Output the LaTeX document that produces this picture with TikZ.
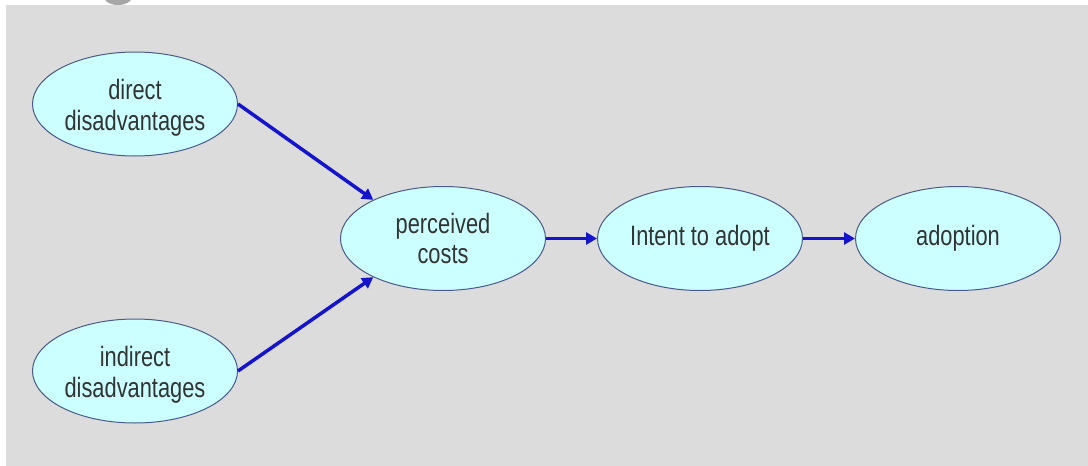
\documentclass[tikz,border=0pt]{standalone}
\usepackage{fontspec}
\usepackage{graphicx}
\setmainfont{Liberation Sans}
\usetikzlibrary{arrows.meta,shapes.geometric}
\definecolor{bg}{HTML}{DCDCDC}
\definecolor{nodefill}{HTML}{CCFFFF}
\definecolor{nodeline}{HTML}{4A5A8C}
\definecolor{arrowblue}{HTML}{1414CC}
\definecolor{txt}{HTML}{333333}
\newcommand\sq[1]{\scalebox{0.78}[1]{#1}}
\newcommand\tallstrut{\rule{0pt}{28pt}}
\tikzset{
  bubble/.style={ellipse, draw=nodeline, line width=1pt, fill=nodefill, minimum width=205pt, minimum height=104pt, inner sep=0pt, align=center, text=txt, font=\fontsize{28}{30.5}\selectfont},
  link/.style={draw=arrowblue, line width=3.5pt, -{Triangle[length=11pt,width=12pt]}}
}
\begin{document}
\begin{tikzpicture}[x=1pt,y=-1pt]
\useasboundingbox (0,0) rectangle (1088,466);
\fill[white] (0,0) rectangle (1088,466);
\fill[bg] (6,5) rectangle (1088,466);
\begin{scope}
\clip (0,0) rectangle (1088,5);
\fill[gray!70] (118,-3) ellipse (14pt and 8pt);
\end{scope}
\node[bubble] (dd) at (135,104) {\tallstrut\sq{direct}\\\sq{disadvantages}};
\node[bubble] (id) at (135,371) {\tallstrut\sq{indirect}\\\sq{disadvantages}};
\node[bubble] (pc) at (443,238.5) {\sq{perceived}\\\sq{costs}};
\node[bubble] (ia) at (700,238.5) {\sq{Intent to adopt}};
\node[bubble] (ad) at (958,238.5) {\sq{adoption}};
\draw[link] (dd.east) -- (pc.151);
\draw[link] (id.east) -- (pc.-151);
\draw[link] (pc.east) -- (ia.west);
\draw[link] (ia.east) -- (ad.west);
\end{tikzpicture}
\end{document}
